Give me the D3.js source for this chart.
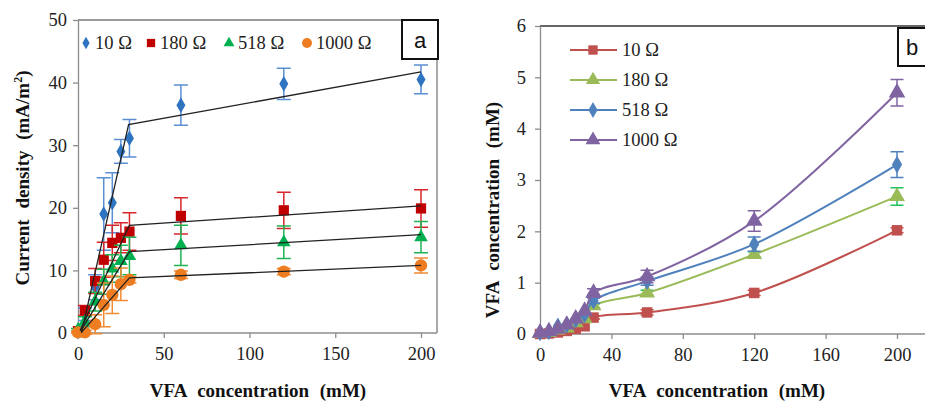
<!DOCTYPE html>
<html>
<head>
<meta charset="utf-8">
<script src="https://cdn.jsdelivr.net/npm/d3@7"></script>
<style>
  html, body { margin: 0; padding: 0; background: #fff; }
  svg { display: block; }
</style>
</head>
<body>
<svg id="chart" width="925" height="404"></svg>
<script>
// ---- Panel a: current density vs VFA concentration ----
const concA = [0, 4, 10, 15, 20, 25, 30, 60, 120, 200];
const cd10 = [0.2, 3.0, 7.3, 19.0, 20.8, 29.0, 31.1, 36.4, 39.8, 40.5];
const cd10Err = [0, 1.0, 2.0, 5.8, 4.8, 1.9, 3.0, 3.2, 2.5, 2.3];
const cd180 = [0.3, 3.6, 8.3, 11.7, 14.4, 15.2, 16.2, 18.7, 19.6, 19.9];
const cd180Err = [0, 0.8, 2.0, 2.8, 2.8, 2.4, 3.0, 2.9, 2.9, 3.0];
const cd518 = [0.5, 1.8, 5.0, 8.2, 10.3, 11.5, 12.3, 14.0, 14.5, 15.3];
const cd518Err = [0.2, 0.8, 1.5, 2.0, 2.2, 2.5, 3.0, 3.2, 2.6, 2.5];
const cd1000 = [0.1, 0.1, 1.4, 4.5, 6.1, 7.8, 8.5, 9.3, 9.8, 10.8];
const cd1000Err = [0.1, 0.3, 1.5, 3.5, 3.0, 2.6, 0.5, 0.6, 0.5, 1.2];
// two-segment linear fits: [start, break, end] as [x, y]
const fit10 = [[2, 0], [29.5, 33.3], [200, 41.7]];
const fit180 = [[1.2, 0.4], [30, 17.2], [200, 20.3]];
const fit518 = [[1.5, 0.3], [30, 13.0], [200, 15.7]];
const fit1000 = [[2, 0.1], [30, 8.8], [200, 10.8]];
const ticksXA = [0, 50, 100, 150, 200];
const ticksYA = [0, 10, 20, 30, 40, 50];

// ---- Panel b: residual VFA concentration ----
const concB = [0, 5, 10, 15, 20, 25, 30, 60, 120, 200];
const vfa10 = [0, 0.01, 0.03, 0.06, 0.1, 0.15, 0.32, 0.42, 0.8, 2.02];
const vfa10Err = [0, 0, 0, 0, 0, 0, 0.03, 0.05, 0.05, 0.05];
const vfa180 = [0.01, 0.03, 0.08, 0.12, 0.22, 0.3, 0.55, 0.8, 1.55, 2.68];
const vfa180Err = [0, 0, 0, 0, 0, 0, 0.04, 0.05, 0.05, 0.17];
const vfa518 = [0.03, 0.05, 0.15, 0.18, 0.28, 0.38, 0.65, 1.03, 1.75, 3.3];
const vfa518Err = [0, 0, 0, 0, 0, 0, 0.05, 0.08, 0.14, 0.25];
const vfa1000 = [0.02, 0.05, 0.1, 0.18, 0.3, 0.45, 0.8, 1.12, 2.2, 4.7];
const vfa1000Err = [0, 0, 0, 0, 0, 0, 0.08, 0.12, 0.2, 0.26];
const ticksXB = [0, 40, 80, 120, 160, 200];
const ticksYB = [0, 1, 2, 3, 4, 5, 6];

const resistances = ["10 Ω", "180 Ω", "518 Ω", "1000 Ω"];

const svg = d3.select("#chart");
const serif = "Liberation Serif";
const sans = "Liberation Sans";
const axisGrey = "#8c8c8c";

function styleAxis(g) {
  g.attr("font-family", serif).attr("font-size", 18.5);
  g.select(".domain").attr("stroke", axisGrey).attr("stroke-width", 1.3);
  g.selectAll(".tick line").attr("stroke", axisGrey).attr("stroke-width", 1.3);
  g.selectAll(".tick text").attr("fill", "#222");
}

function symbolPath(type, size) {
  return d3.symbol().type(type).size(size)();
}

function errorBars(g, xs, vals, errs, x, y, color, cap, width) {
  const eg = g.append("g").attr("stroke", color).attr("stroke-width", width).attr("fill", "none");
  xs.forEach((c, i) => {
    if (errs[i] <= 0) return;
    const px = x(c), lo = y(vals[i] - errs[i]), hi = y(vals[i] + errs[i]);
    eg.append("path").attr("d",
      `M${px},${lo}V${hi}M${px - cap / 2},${hi}H${px + cap / 2}M${px - cap / 2},${lo}H${px + cap / 2}`);
  });
}

function axisTitle(g, x, y, rotate) {
  return g.append("text")
    .attr("transform", `translate(${x},${y})` + (rotate ? " rotate(-90)" : ""))
    .attr("text-anchor", "middle").attr("font-family", serif).attr("font-size", 19)
    .attr("font-weight", "bold").attr("word-spacing", 6).attr("fill", "#111");
}

// ================= Panel a =================
const xA = d3.scaleLinear().domain([0, 200]).range([78, 421]);
const yA = d3.scaleLinear().domain([0, 50]).range([333, 20]);
const aRight = 437;

const gA = svg.append("g");
// plot frame (top and right)
gA.append("path")
  .attr("d", `M${xA(0)},${yA(50)}H${aRight}V${yA(0)}`)
  .attr("fill", "none").attr("stroke", "#7a7a7a").attr("stroke-width", 1.3);

gA.append("g").attr("transform", `translate(0,${yA(0)})`)
  .call(d3.axisBottom(xA).tickValues(ticksXA).tickFormat(d3.format("d")).tickSize(5).tickPadding(9).tickSizeOuter(0))
  .call(styleAxis)
  .call(g => g.select(".domain").attr("d", `M${xA(0)},0H${aRight}`));
gA.append("g").attr("transform", `translate(${xA(0)},0)`)
  .call(d3.axisLeft(yA).tickValues(ticksYA).tickFormat(d3.format("d")).tickSize(5).tickPadding(6).tickSizeOuter(0))
  .call(styleAxis);

const seriesA = [
  { vals: cd10, err: cd10Err, fit: fit10, color: "#2f74c0", errColor: "#5b8fd3", sym: d3.symbolDiamond, size: 70 },
  { vals: cd180, err: cd180Err, fit: fit180, color: "#c00000", errColor: "#d8262b", sym: d3.symbolSquare, size: 105 },
  { vals: cd518, err: cd518Err, fit: fit518, color: "#00b050", errColor: "#1fb552", sym: d3.symbolTriangle, size: 80 },
  { vals: cd1000, err: cd1000Err, fit: fit1000, color: "#ee7d22", errColor: "#f08a33", sym: d3.symbolCircle, size: 120 }
];

seriesA.forEach(s => {
  errorBars(gA, concA, s.vals, s.err, xA, yA, s.errColor, 14, 1.5);
  gA.append("g").selectAll("path").data(concA).join("path")
    .attr("d", symbolPath(s.sym, s.size))
    .attr("transform", (c, i) => `translate(${xA(c)},${yA(s.vals[i])})`)
    .attr("fill", s.color);
});

const fitLine = d3.line().x(d => xA(d[0])).y(d => yA(d[1]));
seriesA.forEach(s => {
  gA.append("path").attr("d", fitLine(s.fit))
    .attr("fill", "none").attr("stroke", "#222").attr("stroke-width", 1.3);
});

// legend a
const legA = gA.append("g");
const legAX = [86, 151, 229, 307];
seriesA.forEach((s, i) => {
  legA.append("path").attr("d", symbolPath(s.sym, s.size * 0.65))
    .attr("transform", `translate(${legAX[i]},43)`).attr("fill", s.color);
  legA.append("text").attr("x", legAX[i] + 9).attr("y", 49)
    .attr("font-family", serif).attr("font-size", 18.5).attr("fill", "#222")
    .text(resistances[i]);
});

// panel tag a
gA.append("rect").attr("x", 402).attr("y", 20).attr("width", 36).attr("height", 39)
  .attr("fill", "#fff").attr("stroke", "#111").attr("stroke-width", 2);
gA.append("text").attr("x", 420).attr("y", 48).attr("text-anchor", "middle")
  .attr("font-family", sans).attr("font-size", 22).attr("fill", "#111").text("a");

// axis titles a
axisTitle(gA, 258, 397, false).text("VFA concentration (mM)");
const ytA = axisTitle(gA, 29, 178, true);
ytA.append("tspan").text("Current density (mA/m");
ytA.append("tspan").attr("dy", -7).attr("font-size", 12).text("2");
ytA.append("tspan").attr("dy", 7).text(")");

// ================= Panel b =================
const xB = d3.scaleLinear().domain([0, 200]).range([540, 897]);
const yB = d3.scaleLinear().domain([0, 6]).range([334, 26]);

const gB = svg.append("g");
gB.append("path").attr("d", `M${xB(0)},${yB(6)}H930`)
  .attr("fill", "none").attr("stroke", "#333").attr("stroke-width", 1.3);

gB.append("g").attr("transform", `translate(0,${yB(0)})`)
  .call(d3.axisBottom(xB).tickValues(ticksXB).tickFormat(d3.format("d")).tickSize(5).tickPadding(9).tickSizeOuter(0))
  .call(styleAxis)
  .call(g => g.select(".domain").attr("d", `M${xB(0)},0H930`));
gB.append("g").attr("transform", `translate(${xB(0)},0)`)
  .call(d3.axisLeft(yB).tickValues(ticksYB).tickFormat(d3.format("d")).tickSize(5).tickPadding(9).tickSizeOuter(0))
  .call(styleAxis);

const seriesB = [
  { vals: vfa10, err: vfa10Err, color: "#c0504d", sym: d3.symbolSquare, size: 110 },
  { vals: vfa180, err: vfa180Err, color: "#9bbb59", sym: d3.symbolTriangle, size: 110 },
  { vals: vfa518, err: vfa518Err, color: "#4f81bd", sym: d3.symbolDiamond, size: 90 },
  { vals: vfa1000, err: vfa1000Err, color: "#8064a2", sym: d3.symbolTriangle, size: 120 }
];
const errColorsB = ["#c0504d", "#1fc25a", "#4f81bd", "#8064a2"];

seriesB.forEach((s, k) => {
  errorBars(gB, concB, s.vals, s.err, xB, yB, errColorsB[k], 13, 1.5);
  const line = d3.line().x(c => xB(c)).y((c, i) => yB(s.vals[i])).curve(d3.curveCatmullRom.alpha(0.5));
  gB.append("path").attr("d", line(concB))
    .attr("fill", "none").attr("stroke", s.color).attr("stroke-width", 2);
  gB.append("g").selectAll("path").data(concB).join("path")
    .attr("d", symbolPath(s.sym, s.size))
    .attr("transform", (c, i) => `translate(${xB(c)},${yB(s.vals[i])})`)
    .attr("fill", s.color);
});

// legend b
const legB = gB.append("g");
const legBY = [50, 80, 110, 140];
seriesB.forEach((s, i) => {
  legB.append("line").attr("x1", 570).attr("x2", 617).attr("y1", legBY[i]).attr("y2", legBY[i])
    .attr("stroke", s.color).attr("stroke-width", 2);
  legB.append("path").attr("d", symbolPath(s.sym, s.size * 0.8))
    .attr("transform", `translate(593,${legBY[i]})`).attr("fill", s.color);
  legB.append("text").attr("x", 622).attr("y", legBY[i] + 6)
    .attr("font-family", serif).attr("font-size", 18.5).attr("fill", "#222")
    .text(resistances[i]);
});

// panel tag b
gB.append("rect").attr("x", 898).attr("y", 28).attr("width", 40).attr("height", 38)
  .attr("fill", "#fff").attr("stroke", "#111").attr("stroke-width", 2);
gB.append("text").attr("x", 912).attr("y", 55).attr("text-anchor", "middle")
  .attr("font-family", sans).attr("font-size", 22).attr("fill", "#111").text("b");

// axis titles b
axisTitle(gB, 717, 397, false).text("VFA concentration (mM)");
axisTitle(gB, 499, 210, true).text("VFA concentration (mM)");
</script>
</body>
</html>
